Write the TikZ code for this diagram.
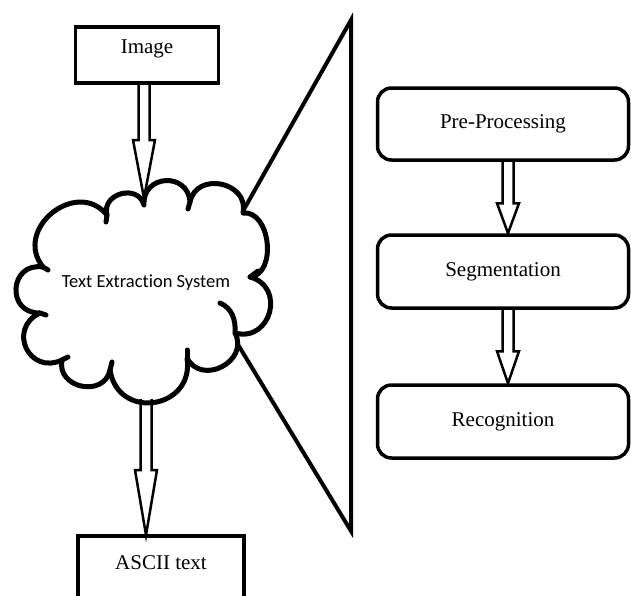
\documentclass[tikz,border=0pt]{standalone}
\usepackage{fontspec}
\setmainfont{Liberation Serif}
\newfontfamily\cloudfont[Ligatures=NoCommon]{Carlito}
\usetikzlibrary{calc}
\newcommand\hollowarrow[3]{%
  \draw[harrow] let \p1=(#1), \p2=(#2) in
   (\x1-5.5pt,\y1) -- (\x1-5.5pt,\y2+#3) -- (\x1-11pt,\y2+#3) -- (\x1,\y2)
   -- (\x1+11pt,\y2+#3) -- (\x1+5.5pt,\y2+#3) -- (\x1+5.5pt,\y1);}
\begin{document}
\begin{tikzpicture}[x=1pt,y=-1pt,
  sqbox/.style={draw, line width=3.5pt, inner xsep=0pt, inner ysep=0pt,
    font=\fontsize{21}{24}\selectfont},
  rbox/.style={draw, line width=3.5pt, rounded corners=14pt, minimum width=251pt,
    minimum height=72pt, font=\fontsize{21}{24}\selectfont},
  harrow/.style={draw, line width=2.5pt, line join=miter},
  cloudline/.style={line width=5pt, line cap=round, line join=round},
  tri/.style={line width=4pt, line join=miter}]
\useasboundingbox (0,0) rectangle (631,595);
\clip (0,0) rectangle (631,595);

% left column boxes
\node[sqbox, anchor=base, minimum width=143pt, text height=26pt, text depth=30pt] (image) at (147,53) {Image};
\node[sqbox, anchor=base, minimum width=166pt, text height=33pt, text depth=60pt] (ascii) at (161,569) {ASCII text};

% cloud
\node[font=\cloudfont\fontsize{18.5}{21}\selectfont] (tes) at (146,283) {Text Extraction System};
\coordinate (J1) at (43,267);
\coordinate (J2) at (107,215);
\coordinate (J3) at (144,205);
\coordinate (J4) at (190,202);
\coordinate (J5) at (243,213);
\coordinate (J6) at (250,277);
\coordinate (J7) at (235,333);
\coordinate (J8) at (187,358);
\coordinate (J9) at (110,370);
\coordinate (J10) at (62,360);
\coordinate (J11) at (40,313);
\draw[cloudline]
  (J1) to[bend left=90, looseness=1.5] (J2)
       to[bend left=90, looseness=1.5] (J3)
       to[bend left=90, looseness=1.7] (J4)
       to[bend left=90, looseness=1.5] (J5)
       to[bend left=90, looseness=1.1] (J6)
       to[bend left=90, looseness=1.65] (J7)
       to[bend left=90, looseness=1.5] (J8)
       to[bend left=90, looseness=1.7] (J9)
       to[bend left=90, looseness=1.5] (J10)
       to[bend left=90, looseness=1.8] (J11)
       to[bend left=95, looseness=1.9] (J1) -- cycle;
% inner hooks of the puffs
\draw[cloudline] (J1) -- +(5,3);
\draw[cloudline] (J2) -- +(-1,7);
\draw[cloudline] (J4) -- +(-2,7);
\draw[cloudline] (J6) -- +(8,-6);
\draw[cloudline] (220,303) .. controls (232,308) and (236,320) .. (J7);
\draw[cloudline] (J8) -- +(0,-8);
\draw[cloudline] (J9) -- +(2,-8);
\draw[cloudline] (J10) -- +(6,-3);
\draw[cloudline] (J11) -- +(6,2);

% arrows on the left
\coordinate (a1s) at (144,83);
\coordinate (a1e) at (144,198);
\hollowarrow{a1s}{a1e}{58pt}
\coordinate (a2s) at (146,399);
\coordinate (a2e) at (146,535);
\hollowarrow{a2s}{a2e}{65pt}

% zoom triangle
\coordinate (tA) at (243,211);
\coordinate (tB) at (351,20);
\coordinate (tC) at (351,531);
\coordinate (tD) at (237,343);
\draw[tri] (tA) -- (tB) -- (tC) -- (tD);

% right column
\node[rbox] (pre) at (503,124) {Pre-Processing};
\node[rbox, minimum height=73pt] (seg) at (503,271.5) {Segmentation};
\node[rbox, minimum height=73pt] (rec) at (503,421.5) {Recognition};
\coordinate (b1s) at ($(pre.south)+(5,0)$);
\coordinate (b1e) at ($(seg.north)+(5,0)$);
\hollowarrow{b1s}{b1e}{30pt}
\coordinate (b2s) at ($(seg.south)+(5,0)$);
\coordinate (b2e) at ($(rec.north)+(5,0)$);
\hollowarrow{b2s}{b2e}{32pt}
\end{tikzpicture}
\end{document}
